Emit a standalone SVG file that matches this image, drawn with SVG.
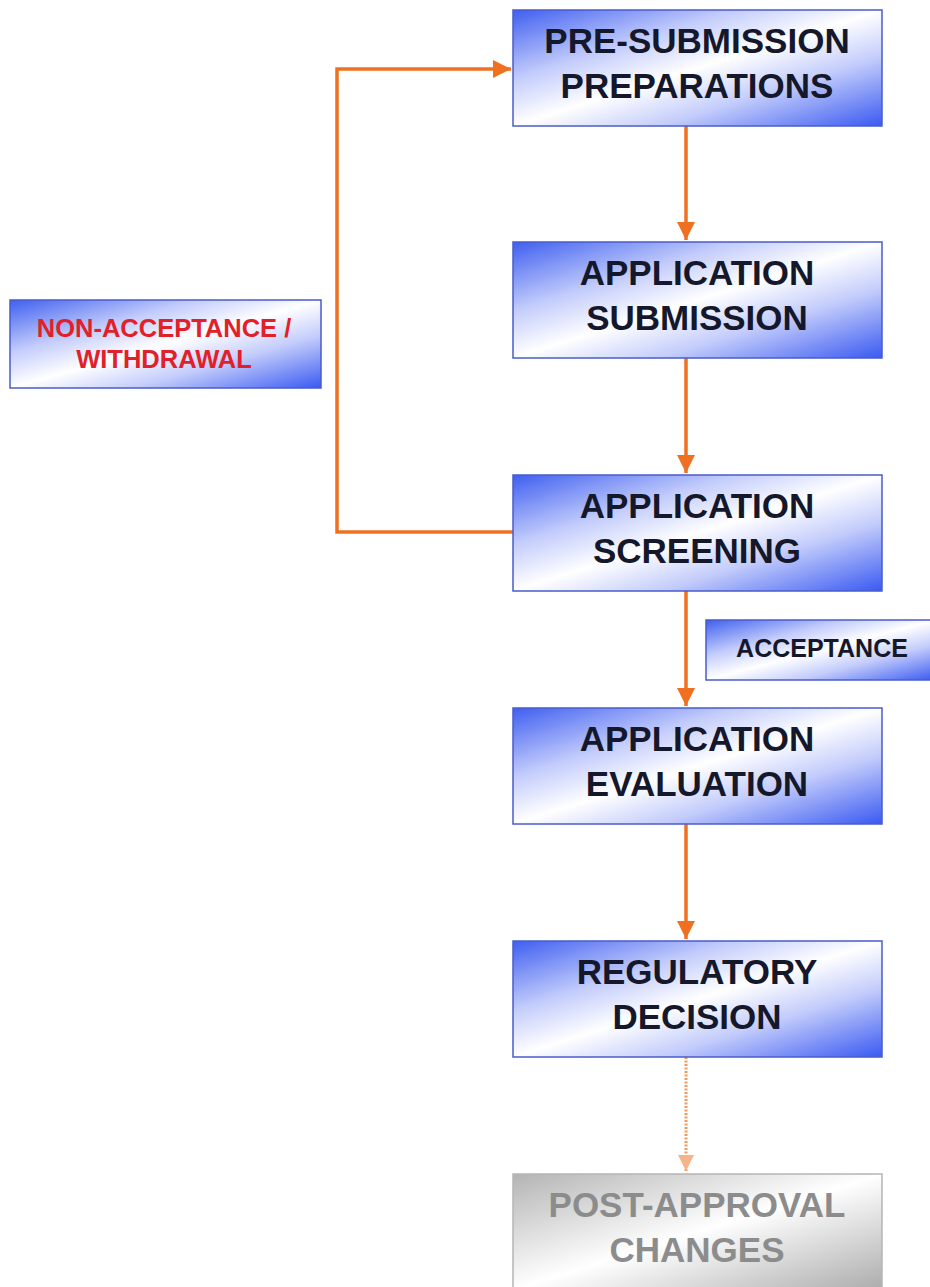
<svg xmlns="http://www.w3.org/2000/svg" width="930" height="1287" viewBox="0 0 930 1287">
<defs>
<linearGradient id="gb" x1="0" y1="0" x2="1" y2="1">
<stop offset="0" stop-color="#3f5ff0"/>
<stop offset="0.3" stop-color="#c3ccfb"/>
<stop offset="0.5" stop-color="#ffffff"/>
<stop offset="0.7" stop-color="#c3ccfb"/>
<stop offset="1" stop-color="#3a5af2"/>
</linearGradient>
<linearGradient id="gg" x1="0" y1="0" x2="1" y2="1">
<stop offset="0" stop-color="#b4b4b4"/>
<stop offset="0.5" stop-color="#ffffff"/>
<stop offset="1" stop-color="#acacac"/>
</linearGradient>
<marker id="ah" viewBox="0 0 10 10" refX="10" refY="5" markerWidth="5.2" markerHeight="5.2" markerUnits="strokeWidth" orient="auto">
<path d="M0,0 L10,5 L0,10 z" fill="#f07022"/>
</marker>
<marker id="ahd" viewBox="0 0 10 10" refX="10" refY="5" markerWidth="5.5" markerHeight="5.5" markerUnits="strokeWidth" orient="auto">
<path d="M0,0 L10,5 L0,10 z" fill="#f6b48a"/>
</marker>
</defs>
<style>
.box{fill:url(#gb);stroke:#4a5ccc;stroke-width:1.5}
.gbox{fill:url(#gg);stroke:#b5b5b5;stroke-width:1.5}
.t{font-family:"Liberation Sans",Arial,sans-serif;font-weight:bold;text-anchor:middle}
.main{font-size:35px;fill:#15172a}
.small{font-size:25px;fill:#15172a}
.red{font-size:25.5px;fill:#e2202a}
.grey{font-size:35px;fill:#8c8c8c}
.c{fill:none;stroke:#f07022;stroke-width:3.5}
</style>
<rect width="930" height="1287" fill="#ffffff"/>
<g id="connectors">
<path class="c" d="M686,126 V240" marker-end="url(#ah)"/>
<path class="c" d="M686,358 V473" marker-end="url(#ah)"/>
<path class="c" d="M686,591 V706" marker-end="url(#ah)"/>
<path class="c" d="M686,824 V939" marker-end="url(#ah)"/>
<path class="c" d="M513,532 H337 V69 H511" marker-end="url(#ah)"/>
<path d="M686,1057 V1171" fill="none" stroke="#f29a60" stroke-width="3" stroke-dasharray="2 1.5" marker-end="url(#ahd)"/>
</g>
<g id="n-presub">
<rect class="box" x="513" y="10" width="369" height="116"/>
<text class="t main" x="697" y="53">PRE-SUBMISSION</text>
<text class="t main" x="697" y="98">PREPARATIONS</text>
</g>
<g id="n-submission">
<rect class="box" x="513" y="242" width="369" height="116"/>
<text class="t main" x="697" y="285">APPLICATION</text>
<text class="t main" x="697" y="330">SUBMISSION</text>
</g>
<g id="n-screening">
<rect class="box" x="513" y="475" width="369" height="116"/>
<text class="t main" x="697" y="518">APPLICATION</text>
<text class="t main" x="697" y="563">SCREENING</text>
</g>
<g id="n-evaluation">
<rect class="box" x="513" y="708" width="369" height="116"/>
<text class="t main" x="697" y="751">APPLICATION</text>
<text class="t main" x="697" y="796">EVALUATION</text>
</g>
<g id="n-decision">
<rect class="box" x="513" y="941" width="369" height="116"/>
<text class="t main" x="697" y="984">REGULATORY</text>
<text class="t main" x="697" y="1029">DECISION</text>
</g>
<g id="n-postapproval">
<rect class="gbox" x="513" y="1174" width="369" height="116"/>
<text class="t grey" x="697" y="1217">POST-APPROVAL</text>
<text class="t grey" x="697" y="1262">CHANGES</text>
</g>
<g id="n-nonaccept">
<rect class="box" x="10" y="300" width="311" height="88"/>
<text class="t red" x="164" y="337">NON-ACCEPTANCE /</text>
<text class="t red" x="164" y="368">WITHDRAWAL</text>
</g>
<g id="n-accept">
<rect class="box" x="706" y="620" width="230" height="60"/>
<text class="t small" x="822" y="657">ACCEPTANCE</text>
</g>
</svg>
